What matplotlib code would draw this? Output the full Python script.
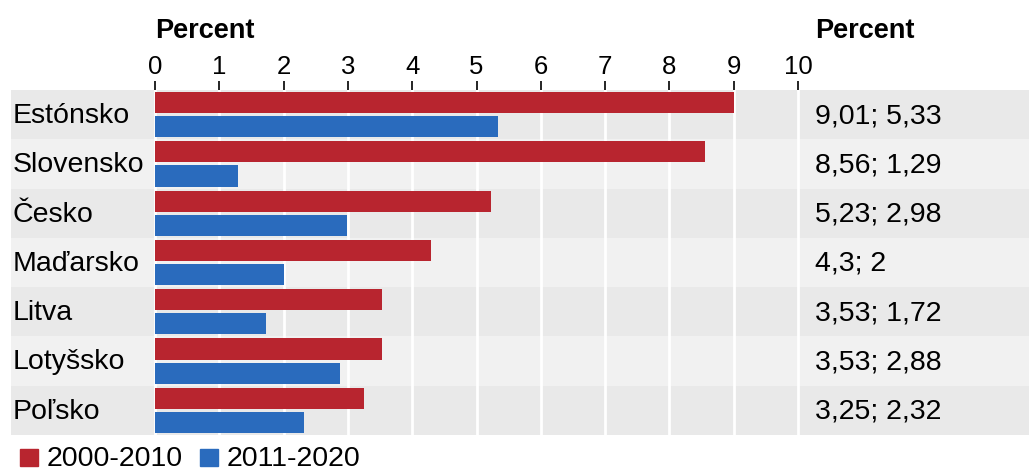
import matplotlib.pyplot as plt
from matplotlib.patches import Rectangle
from matplotlib.transforms import blended_transform_factory
import numpy as np

plt.rcParams['font.family'] = ['Liberation Sans', 'DejaVu Sans']

countries = ['Estónsko', 'Slovensko', 'Česko', 'Maďarsko', 'Litva', 'Lotyšsko', 'Poľsko']
v_2000_2010 = [9.01, 8.56, 5.23, 4.3, 3.53, 3.53, 3.25]
v_2011_2020 = [5.33, 1.29, 2.98, 2, 1.72, 2.88, 2.32]
labels = ['9,01; 5,33', '8,56; 1,29', '5,23; 2,98', '4,3; 2', '3,53; 1,72', '3,53; 2,88', '3,25; 2,32']
series_names = ['2000-2010', '2011-2020']

red = '#b8252f'
blue = '#2a6bbd'
fs = 20.5

W, H = 1029, 472
fig = plt.figure(figsize=(W / 100, H / 100), dpi=100)
ax = fig.add_axes([11 / W, 1 - 435 / H, 1 - 11 / W, 345 / H])

n = len(countries)
y = np.arange(n)
for i in range(n):
    ax.axhspan(i - 0.5, i + 0.5, color='#e9e9e9' if i % 2 == 0 else '#f1f1f1', zorder=0, lw=0)

ax.barh(y - 0.245, v_2000_2010, height=0.43, color=red, zorder=3)
ax.barh(y + 0.245, v_2011_2020, height=0.43, color=blue, zorder=3)

ax.set_ylim(n - 0.5, -0.5)
x0 = -144 / 64.3
x1 = (W - 155) / 64.3
ax.set_xlim(x0, x1)
ax.set_xticks(range(0, 11))
ax.set_yticks([])
ax.xaxis.tick_top()
ax.tick_params(axis='x', length=6.5, width=1.2, pad=1.5, labelsize=18.5, color='black')
ax.grid(axis='x', color='white', lw=2, zorder=1)
for s in ax.spines.values():
    s.set_visible(False)

for i, c in enumerate(countries):
    ax.text(x0 + 0.02, i + 0.17, c, va='baseline', ha='left', fontsize=fs)
    ax.text(10.26, i + 0.17, labels[i], va='baseline', ha='left', fontsize=fs)

trans = blended_transform_factory(ax.transData, fig.transFigure)
ax.text(0.0, 1 - 37.5 / H, 'Percent', transform=trans, ha='left', va='baseline',
        fontsize=19.5, fontweight='bold')
ax.text(10.26, 1 - 37.5 / H, 'Percent', transform=trans, ha='left', va='baseline',
        fontsize=19.5, fontweight='bold')

# legend drawn by hand: coloured squares + labels
base = 466
for px, col, name in [(20, red, series_names[0]), (200, blue, series_names[1])]:
    fig.patches.append(Rectangle((px / W, 1 - base / H), 18 / W, 17 / H, color=col,
                                 transform=fig.transFigure, figure=fig))
    fig.text((px + 27) / W, 1 - base / H, name, ha='left', va='baseline', fontsize=fs)

fig.savefig('out.png', dpi=100)
